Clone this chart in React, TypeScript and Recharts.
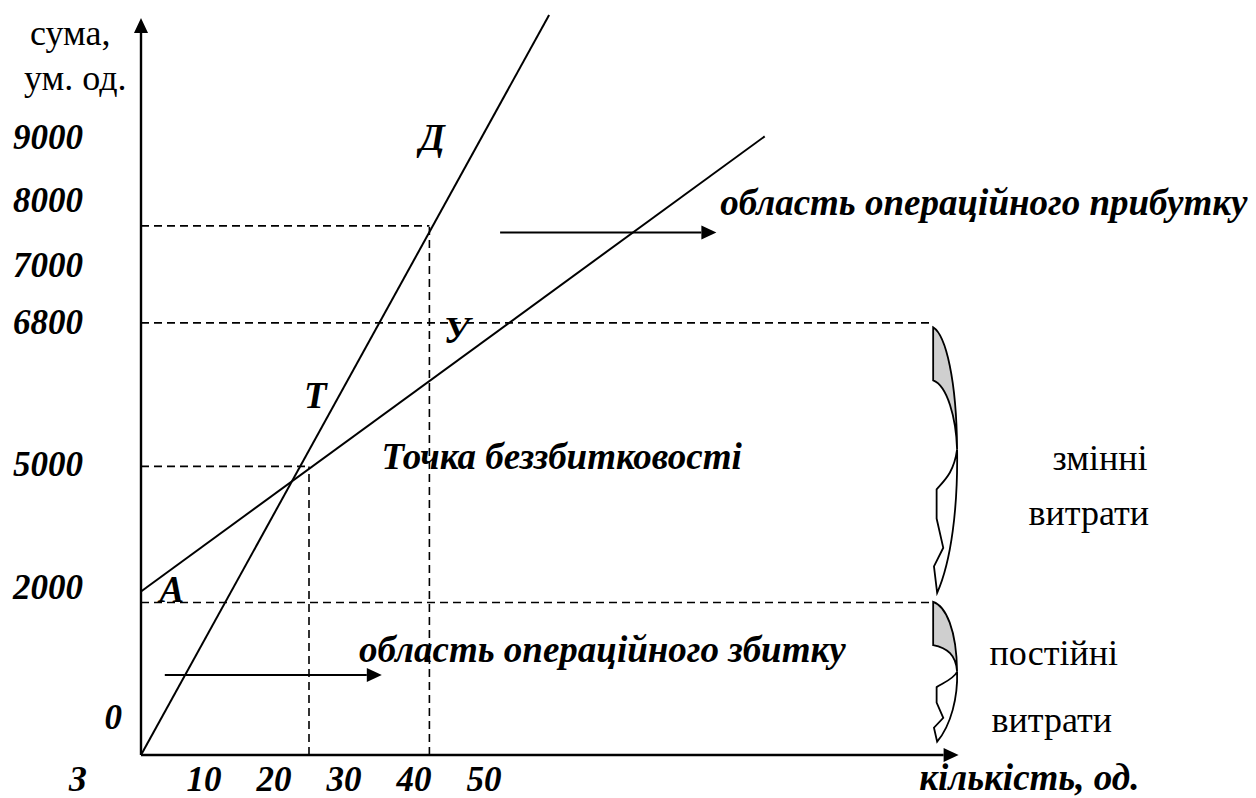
import React from 'react';
import {
  ComposedChart,
  Line,
  XAxis,
  YAxis,
  ReferenceLine,
  ReferenceArea,
  ReferenceDot,
} from 'recharts';

// Schematic break-even chart. x = кількість (од.), y = schematic height of the sum axis (0..100),
// the sum axis is not to scale in the original, so its labels sit on their own positions.
const revenueLine = [
  { x: 0, y: 0 },
  { x: 58.3, y: 100 },
];
const costLine = [
  { x: 0, y: 22.1 },
  { x: 89.1, y: 83.6 },
];

const fixedLevel = 20.6;
const totalLevel = 58.4;
const breakEvenLevel = 39;
const breakEvenQty = 24;
const salesLevel = 71.5;
const salesQty = 41.2;
const guideEnd = 113;

const qtyTicks = [0, 10, 20, 30, 40, 50];
const originLabel = 'З';
const sumTickPos = [5.1, 22.6, 39.2, 58.4, 66.2, 75, 83.5];
const sumTickLabels = ['0', '2000', '5000', '6800', '7000', '8000', '9000'];

const guides = [
  [{ x: 0, y: fixedLevel }, { x: guideEnd, y: fixedLevel }],
  [{ x: 0, y: totalLevel }, { x: guideEnd, y: totalLevel }],
  [{ x: 0, y: breakEvenLevel }, { x: breakEvenQty, y: breakEvenLevel }],
  [{ x: breakEvenQty, y: 0 }, { x: breakEvenQty, y: breakEvenLevel }],
  [{ x: 0, y: salesLevel }, { x: salesQty, y: salesLevel }],
  [{ x: salesQty, y: 0 }, { x: salesQty, y: salesLevel }],
];

const axes = [
  [{ x: 0, y: 0 }, { x: 116.8, y: 0 }],
  [{ x: 0, y: 0 }, { x: 0, y: 99.6 }],
];
const areaArrows = [
  [{ x: 51.3, y: 70.6 }, { x: 82.2, y: 70.6 }],
  [{ x: 3.4, y: 10.8 }, { x: 34.4, y: 10.8 }],
];

const braces = [
  { x1: 112.9, x2: 116.7, y1: 21.9, y2: 57.8, gray: 0.2, mid: 0.46 },
  { x1: 112.9, x2: 116.7, y1: 1.8, y2: 20.7, gray: 0.31, mid: 0.5 },
];

const notes = [
  { x: 41.6, y: 83.4, text: 'Д', bold: true },
  { x: 45.1, y: 57.4, text: 'У', bold: true },
  { x: 24.9, y: 48.6, text: 'Т', bold: true },
  { x: 4.4, y: 22.3, text: 'А', bold: true },
  { x: 60.1, y: 40.3, text: 'Точка беззбитковості', bold: true },
  { x: 120.4, y: 74.6, text: 'область операційного прибутку', bold: true },
  { x: 65.9, y: 14.2, text: 'область операційного збитку', bold: true },
  { x: 126.9, y: -3.0, text: 'кількість, од.', bold: true },
  { x: 137, y: 40.1, text: 'змінні', bold: false },
  { x: 135.4, y: 32.7, text: 'витрати', bold: false },
  { x: 130.4, y: 13.8, text: 'постійні', bold: false },
  { x: 130.1, y: 4.7, text: 'витрати', bold: false },
  { x: -10.1, y: 97.6, text: 'сума,', bold: false },
  { x: -9.4, y: 91.5, text: 'ум. од.', bold: false },
];

const serif = "'Liberation Serif', 'Times New Roman', serif";
const tickFont = { fontFamily: serif, fontSize: 35, fontWeight: 700, fontStyle: 'italic' as const, fill: '#000' };
const boldItalic = { ...tickFont, fontSize: 37 };
const plain = { fontFamily: serif, fontSize: 36, fill: '#000' };

const XTick = (props: any) => {
  const { x, y, payload } = props;
  const v = payload.value;
  return (
    <text x={x + (v === 0 ? -63 : -7)} y={y + 24} textAnchor="middle" dominantBaseline="central" style={tickFont}>
      {v === 0 ? originLabel : String(v)}
    </text>
  );
};

const YTick = (props: any) => {
  const { x, y, payload } = props;
  const label = sumTickLabels[sumTickPos.indexOf(payload.value)];
  return (
    <text x={x + (label === '0' ? -19 : -58)} y={y} textAnchor="end" dominantBaseline="central" style={tickFont}>
      {label}
    </text>
  );
};

const ArrowLine = (p: any) => {
  const { x1, y1, x2, y2 } = p;
  const a = Math.atan2(y2 - y1, x2 - x1);
  const len = 15;
  const half = 7;
  const bx = x2 - len * Math.cos(a);
  const by = y2 - len * Math.sin(a);
  const nx = -Math.sin(a) * half;
  const ny = Math.cos(a) * half;
  return (
    <g>
      <line x1={x1} y1={y1} x2={bx} y2={by} stroke="#000" strokeWidth={p.strokeWidth || 2} />
      <polygon points={`${x2},${y2} ${bx + nx},${by + ny} ${bx - nx},${by - ny}`} fill="#000" />
    </g>
  );
};

const makeBrace = (gray: number, mid: number) => (p: any) => {
  const { x, y, width: w, height: h } = p;
  const P = (u: number, v: number) => `${x + u * w},${y + v * h}`;
  const grayPath = `M${P(0.07, 0)} C${P(0.55, 0.03)} ${P(0.95, 0.2)} ${P(0.97, mid)} C${P(0.93, mid - 0.12)} ${P(0.6, gray + 0.02)} ${P(0.07, gray)} Z`;
  const whitePath = `M${P(0.97, mid)} C${P(1.0, 0.68)} ${P(0.75, 0.88)} ${P(0.22, 1)} L${P(0.1, 0.9)} L${P(0.45, 0.83)} L${P(0.2, 0.72)} L${P(0.2, 0.61)} C${P(0.45, 0.58)} ${P(0.85, 0.55)} ${P(0.97, mid)} Z`;
  return (
    <g>
      <path d={grayPath} fill="#cfcfcf" stroke="#000" strokeWidth={1.8} />
      <path d={whitePath} fill="#fff" stroke="#000" strokeWidth={1.8} />
    </g>
  );
};

const NoteShape = (note: { text: string; bold: boolean }) => (p: any) => (
  <text x={p.cx} y={p.cy} textAnchor="middle" dominantBaseline="central" style={note.bold ? boldItalic : plain}>
    {note.text}
  </text>
);

export default function App() {
  return (
    <div style={{ position: 'absolute', left: 0, top: 0, width: 1256, height: 798, background: '#fff' }}>
      <ComposedChart width={1256} height={798} margin={{ top: 15, right: 296, bottom: 0, left: 0 }}>
        <XAxis
          type="number"
          dataKey="x"
          domain={[0, 117]}
          ticks={qtyTicks}
          interval={0}
          height={43}
          axisLine={false}
          tickLine={false}
          tickSize={0}
          tickMargin={0}
          tick={<XTick />}
        />
        <YAxis
          type="number"
          domain={[0, 100]}
          ticks={sumTickPos}
          interval={0}
          width={141}
          axisLine={false}
          tickLine={false}
          tickSize={0}
          tickMargin={0}
          tick={<YTick />}
        />
        {guides.map((seg, i) => (
          <ReferenceLine
            key={'g' + i}
            segment={seg}
            stroke="#000"
            strokeWidth={1.6}
            strokeDasharray="8 5"
            ifOverflow="visible"
          />
        ))}
        {axes.map((seg, i) => (
          <ReferenceLine key={'a' + i} segment={seg} strokeWidth={2.4} ifOverflow="visible" shape={ArrowLine} />
        ))}
        {areaArrows.map((seg, i) => (
          <ReferenceLine key={'r' + i} segment={seg} strokeWidth={2} ifOverflow="visible" shape={ArrowLine} />
        ))}
        {braces.map((b, i) => (
          <ReferenceArea
            key={'b' + i}
            x1={b.x1}
            x2={b.x2}
            y1={b.y1}
            y2={b.y2}
            ifOverflow="visible"
            shape={makeBrace(b.gray, b.mid)}
          />
        ))}
        <Line data={revenueLine} dataKey="y" stroke="#000" strokeWidth={2} dot={false} isAnimationActive={false} />
        <Line data={costLine} dataKey="y" stroke="#000" strokeWidth={2} dot={false} isAnimationActive={false} />
        {notes.map((n, i) => (
          <ReferenceDot key={'n' + i} x={n.x} y={n.y} r={0} ifOverflow="visible" shape={NoteShape(n)} />
        ))}
      </ComposedChart>
    </div>
  );
}
